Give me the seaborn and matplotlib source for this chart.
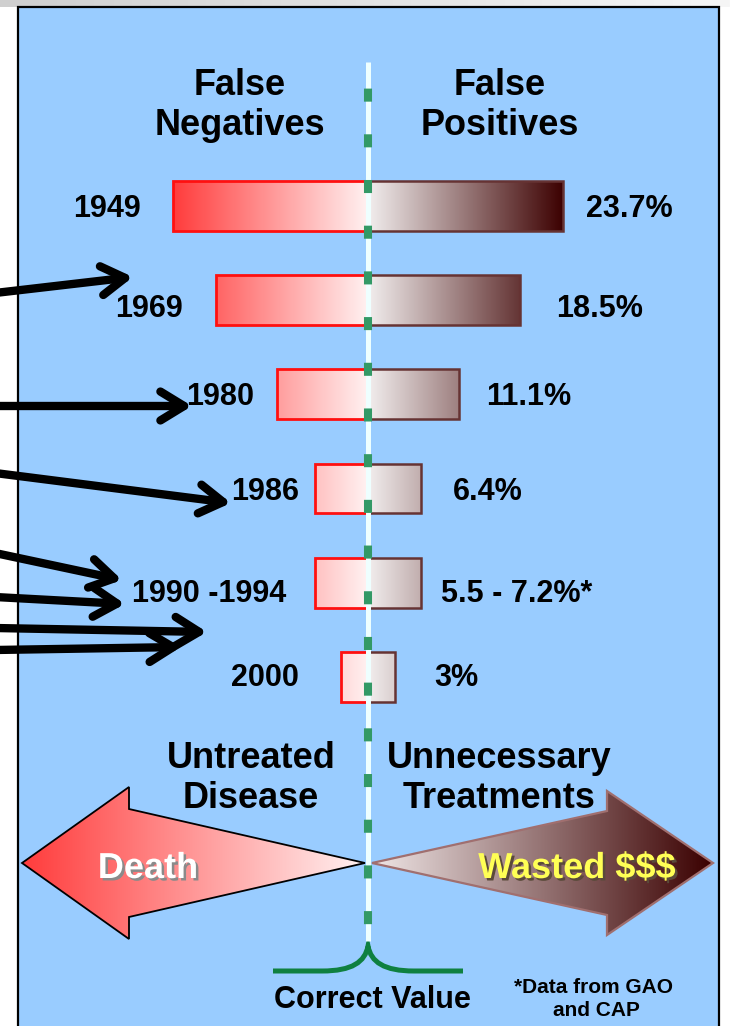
import numpy as np
import matplotlib
matplotlib.use("Agg")
import matplotlib.pyplot as plt
import matplotlib.patheffects as pe
import seaborn as sns
from matplotlib.colors import LinearSegmentedColormap
from matplotlib.patches import Rectangle, Polygon, FancyArrowPatch, PathPatch
from matplotlib.path import Path

# values (percent of results)
years = ["1949", "1969", "1980", "1986", "1990 -1994", "2000"]
false_neg = [23.7, 18.5, 11.1, 6.4, 6.4, 3.3]
false_pos = [23.7, 18.5, 11.1, 6.4, 6.4, 3.3]
value_labels = ["23.7%", "18.5%", "11.1%", "6.4%", "5.5 - 7.2%*", "3%"]

sns.set_style("white")
plt.rcParams["font.family"] = ["Liberation Sans", "DejaVu Sans"]
plt.rcParams["font.weight"] = "bold"
plt.rcParams["lines.scale_dashes"] = False

W, H = 730, 1026
PANEL = "#99CCFF"
RED_EDGE = "#FF1010"
BROWN_EDGE = "#663333"

left_cmap = LinearSegmentedColormap.from_list("fn", ["#FF3C3C", "#FFF2F2"])
right_cmap = LinearSegmentedColormap.from_list("fp", ["#F2EEEE", "#3C0000"])
grad = np.linspace(0, 1, 256)[np.newaxis, :]

fig = plt.figure(figsize=(W / 100, H / 100), dpi=100)

# background layer: slide panel
bg = fig.add_axes([0, 0, 1, 1], zorder=0)
bg.set_xlim(0, W)
bg.set_ylim(H, 0)
bg.axis("off")
strip = LinearSegmentedColormap.from_list("strip", ["#CFCFCF", "#F6F6F6"])
bg.imshow(grad, extent=(0, W, 7, 0), cmap=strip, aspect="auto")
bg.add_patch(Rectangle((18, 7), 701, 1030, facecolor=PANEL,
                       edgecolor="black", lw=1.6))
bg.set_xlim(0, W)
bg.set_ylim(H, 0)

# data layer: mirrored bars, x in percent, y in categories
ax = fig.add_axes([0, 0, 1, 1], zorder=2)
ax.patch.set_visible(False)
sns.barplot(x=[-v for v in false_neg], y=years, orient="h", width=0.53,
            color="white", saturation=1, edgecolor=RED_EDGE, linewidth=2,
            ax=ax)
sns.barplot(x=false_pos, y=years, orient="h", width=0.53,
            color="white", saturation=1, edgecolor=BROWN_EDGE, linewidth=1.8,
            ax=ax)

vmax = max(max(false_neg), max(false_pos))
for p in ax.patches:
    x0, x1 = sorted([p.get_x(), p.get_x() + p.get_width()])
    y0, y1 = p.get_y(), p.get_y() + p.get_height()
    if x0 < 0:
        im = ax.imshow(grad, extent=(-vmax, 0, y1, y0), cmap=left_cmap,
                       aspect="auto", zorder=1)
    else:
        im = ax.imshow(grad, extent=(0, vmax, y1, y0), cmap=right_cmap,
                       aspect="auto", zorder=1)
    im.set_clip_path(p)
    p.set_facecolor("none")
    p.set_zorder(2)

ax.set_xlim(-368 / 8.24, (W - 368) / 8.24)
ax.set_ylim((H - 205.6) / 94.3, -205.6 / 94.3)
ax.axis("off")

# overlay layer: text, arrows, centre line (pixel coordinates)
top = fig.add_axes([0, 0, 1, 1], zorder=3)
top.patch.set_visible(False)

# big arrows at the bottom
death = Polygon([(22, 863), (129, 787), (129, 809), (365, 863),
                 (129, 917), (129, 939)], closed=True, facecolor="none",
                edgecolor="black", lw=1.3, zorder=3)
top.add_patch(death)
im = top.imshow(grad, extent=(22, 365, 940, 785), cmap=left_cmap,
                aspect="auto", zorder=2)
im.set_clip_path(death)

waste = Polygon([(713, 863), (607, 791), (607, 811), (372, 863),
                 (607, 915), (607, 935)], closed=True, facecolor="none",
                edgecolor="#A06F6F", lw=1.6, zorder=3)
top.add_patch(waste)
waste_cmap = LinearSegmentedColormap.from_list("w", ["#EFE6E6", "#3A0000"])
im = top.imshow(grad, extent=(372, 713, 940, 785), cmap=waste_cmap,
                aspect="auto", zorder=2)
im.set_clip_path(waste)

# centre line with green dashes
top.plot([368, 368], [62, 941], color="#EEFFFF", lw=3.6,
         solid_capstyle="butt", zorder=5)
top.plot([368, 368], [62, 941], color="#339966", lw=5.8,
         linestyle=(13.75, (9.4, 23.5)), dash_capstyle="butt", zorder=6)

# curly bracket under the line
brace = Path([(273, 971), (322, 971), (352, 971), (365, 962), (368, 946),
              (371, 962), (384, 971), (414, 971), (463, 971)],
             [Path.MOVETO, Path.LINETO, Path.CURVE4, Path.CURVE4, Path.CURVE4,
              Path.CURVE4, Path.CURVE4, Path.CURVE4, Path.LINETO])
top.add_patch(PathPatch(brace, facecolor="none", edgecolor="#0F8040",
                        lw=3.6, capstyle="butt", zorder=4))

# black pointer arrows coming in from the left
pointers = [((-5, 293), (133, 277)), ((-5, 406), (192, 406)),
            ((-5, 473), (231, 503)), ((-5, 553), (122, 580)),
            ((-5, 597), (125, 604)), ((-5, 628), (207, 632)),
            ((-5, 650), (181, 647))]
for a, b in pointers:
    top.add_patch(FancyArrowPatch(a, b, arrowstyle="->,head_length=0.85,head_width=0.52",
                                  mutation_scale=20, lw=6, color="black",
                                  capstyle="round", joinstyle="round",
                                  shrinkA=0, shrinkB=0, zorder=7))

def label(x, y, s, size, ha="center", color="black", **kw):
    top.text(x, y, s, fontsize=size, fontweight="bold", ha=ha,
             va="baseline", color=color, zorder=8, **kw)

label(240, 95, "False", 26)
label(240, 135, "Negatives", 26)
label(500, 95, "False", 26)
label(500, 135, "Positives", 26)

year_x = [141, 183, 254, 299, 286, 299]
year_y = [217, 317, 405, 500, 602, 686]
value_x = [586, 556, 486, 453, 441, 434]
for yr, lab, yx, vx, yy in zip(years, value_labels, year_x, value_x, year_y):
    label(yx, yy, yr, 22, ha="right")
    label(vx, yy, lab, 22, ha="left")

label(251, 768, "Untreated", 26)
label(251, 808, "Disease", 26)
label(499, 768, "Unnecessary", 26)
label(499, 808, "Treatments", 26)

shadow = [pe.withSimplePatchShadow(offset=(1.8, -1.8),
                                   shadow_rgbFace="#8A8A8A", alpha=1)]
label(148, 878, "Death", 26, color="white", path_effects=shadow)
label(577, 878, "Wasted $$$", 26, color="#FFFF55",
      path_effects=[pe.withSimplePatchShadow(offset=(1.8, -1.8),
                                             shadow_rgbFace="#5A4A3A", alpha=1)])

label(372, 1008, "Correct Value", 22)
label(594, 993, "*Data from GAO", 15)
label(596, 1016, "and CAP", 15)

top.set_xlim(0, W)
top.set_ylim(H, 0)
top.axis("off")

fig.savefig("out.png", dpi=100)
